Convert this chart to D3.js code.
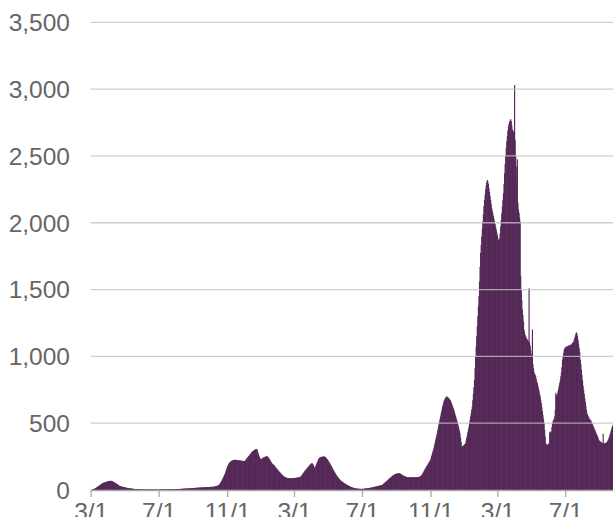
<!DOCTYPE html>
<html><head><meta charset="utf-8">
<script src="https://cdn.jsdelivr.net/npm/d3@7"></script>
<style>html,body{margin:0;padding:0;background:#fff;overflow:hidden}svg{display:block}</style>
</head><body><div id="chart"></div>
<script>
const startDate = "2020-03-01";
const yTicks = [0, 500, 1000, 1500, 2000, 2500, 3000, 3500];
const xTickDates = ["2020-03-01","2020-07-01","2020-11-01","2021-03-01","2021-07-01","2021-11-01","2022-03-01","2022-07-01"];
const dailyValues = [
1,2,3,5,7,8,10,12,15,18,
20,23,26,29,32,35,38,41,44,47,
50,52,54,56,57,58,60,61,63,64,
65,66,67,68,68,69,68,67,65,63,
60,58,56,53,50,48,45,42,39,36,
33,31,30,28,27,25,24,23,22,21,
20,19,18,17,16,15,14,14,13,13,
12,11,11,10,10,9,8,8,8,7,
7,7,6,6,6,6,6,5,5,5,
5,5,5,5,4,4,4,4,4,4,
4,4,4,4,4,4,4,4,4,4,
4,4,4,3,4,4,4,4,4,4,
4,4,4,4,4,4,4,5,5,5,
5,4,5,5,5,5,5,5,5,5,
5,5,5,5,5,5,5,5,5,6,
6,6,6,6,7,7,7,7,8,8,
8,8,9,9,9,10,10,10,10,11,
11,11,11,12,12,12,12,13,13,13,
14,14,14,15,15,15,16,16,16,17,
17,17,17,18,18,18,18,19,19,19,
19,20,20,20,20,21,21,21,21,22,
22,22,22,23,23,23,23,24,24,24,
25,26,27,28,29,30,31,33,35,37,
42,47,53,60,67,75,84,93,102,111,
120,132,145,158,170,180,189,197,204,209,
212,215,218,220,222,224,225,226,226,225,
225,224,224,223,222,222,221,221,220,220,
219,218,218,217,216,216,218,222,228,235,
240,245,250,255,260,265,270,276,282,287,
290,293,296,299,302,305,307,307,300,285,
270,258,248,238,232,230,232,236,240,242,
244,246,248,250,251,252,252,248,242,236,
230,223,216,209,202,196,193,190,187,182,
176,170,164,159,155,150,145,140,135,130,
125,121,117,113,109,105,101,99,97,95,
93,91,89,88,88,88,88,88,88,88,
88,88,89,89,89,90,90,91,92,92,
93,94,95,96,97,98,100,104,110,116,
122,128,134,140,145,150,155,160,165,170,
175,180,185,190,195,198,200,198,192,185,
172,163,170,180,190,200,210,220,230,238,
242,245,247,248,248,249,250,250,250,250,
247,243,238,233,228,222,215,208,201,194,
187,179,171,163,155,147,140,133,126,119,
112,106,100,95,89,84,79,75,71,67,
64,60,57,55,52,49,46,44,41,38,
36,34,32,30,28,25,24,22,20,19,
17,16,15,14,13,12,11,11,10,10,
9,9,9,8,8,8,8,9,9,9,
10,10,11,11,12,12,13,14,14,15,
16,17,17,18,19,20,21,22,23,24,
25,26,27,28,29,30,31,32,33,34,
35,36,37,40,43,47,51,55,58,62,
65,69,73,77,81,85,89,92,95,99,
103,106,109,112,115,117,119,121,122,123,
124,125,125,125,124,122,119,116,113,110,
108,106,104,102,100,99,98,97,96,95,
95,95,95,95,95,95,95,95,95,95,
95,96,96,96,96,96,97,97,98,99,
100,102,106,111,117,123,130,138,146,155,
162,169,176,183,190,197,204,211,218,225,
240,255,270,284,298,312,332,351,370,389,
407,425,447,468,490,510,530,550,570,590,
610,628,645,662,672,682,690,695,700,698,
694,690,685,680,675,670,658,647,635,623,
612,600,585,570,555,540,526,512,495,478,
460,443,425,392,360,325,325,328,332,335,
340,345,350,370,390,410,432,453,475,500,
525,550,575,600,625,672,720,770,825,910,
1000,1075,1150,1225,1300,1375,1450,1560,1670,1775,
1835,1895,1955,2010,2065,2125,2170,2210,2250,2280,
2305,2320,2310,2290,2260,2230,2200,2170,2140,2110,
2090,2070,2050,2030,2010,1990,1970,1950,1930,1910,
1890,1870,1860,1880,1920,1970,2020,2070,2120,2170,
2220,2290,2370,2440,2500,2560,2610,2650,2690,2720,
2740,2755,2765,2775,2760,2730,2700,2690,2680,2670,
3030,2620,2500,2420,2300,2475,2150,2100,2075,2040,
2010,1600,1500,1420,1350,1310,1260,1200,1180,1160,
1150,1140,1130,1125,1120,1110,1510,1100,1080,1050,
1020,990,1200,940,910,880,870,860,850,830,
810,800,780,760,740,720,700,675,650,620,
590,560,530,500,450,400,350,340,340,337,
340,345,350,430,437,437,430,470,500,515,
525,530,550,600,727,710,700,720,740,760,
780,800,820,850,880,920,975,1000,1025,1050,
1060,1065,1070,1072,1074,1075,1078,1080,1082,1084,
1085,1087,1090,1095,1100,1105,1110,1125,1140,1155,
1170,1180,1170,1150,1120,1090,1060,1030,975,940,
900,860,820,780,750,720,690,660,630,600,
575,565,555,545,535,528,525,520,510,500,
490,480,470,460,450,440,430,420,410,400,
390,375,370,365,362,360,355,350,348,420,
350,348,350,350,352,355,360,365,375,385,
395,410,425,440,455,470,480,490
];

const W = 613, H = 517;
const plotLeft = 90.7, plotBottom = 490, plotTop = 22.3;
const pxPerDay = 0.557;
const parse = d3.utcParse("%Y-%m-%d");
const t0 = parse(startDate);
const data = dailyValues.map((v, i) => ({date: d3.utcDay.offset(t0, i), value: v}));
const tEnd = d3.utcDay.offset(t0, dailyValues.length);

const x = d3.scaleUtc().domain([t0, tEnd]).range([plotLeft, plotLeft + pxPerDay * dailyValues.length]);
const y = d3.scaleLinear().domain([0, 3500]).range([plotBottom, plotTop]);

const svg = d3.select("#chart").append("svg").attr("width", W).attr("height", H);

svg.append("g").selectAll("rect").data(data).join("rect")
  .attr("x", d => x(d.date))
  .attr("width", d => x(d3.utcDay.offset(d.date, 1)) - x(d.date) + 0.6)
  .attr("y", d => y(d.value))
  .attr("height", d => y(0) - y(d.value))
  .attr("fill", "#552957");

// gridlines
svg.append("g").selectAll("line").data(yTicks.filter(t => t > 0)).join("line")
  .attr("x1", plotLeft).attr("x2", W)
  .attr("y1", d => y(d)).attr("y2", d => y(d))
  .attr("stroke", "#c4c4c4").attr("stroke-width", 1.3).attr("opacity", 0.8);

// y labels
svg.append("g").selectAll("text").data(yTicks).join("text")
  .attr("x", 70).attr("y", d => y(d)).attr("dy", "0.36em")
  .attr("text-anchor", "end")
  .attr("font-family", "Liberation Sans, Arial, sans-serif")
  .attr("font-size", 24.5).attr("fill", "#666")
  .text(d => d3.format(",")(d));

// x axis
const xAxis = d3.axisBottom(x)
  .tickValues(xTickDates.map(parse))
  .tickFormat(d3.utcFormat("%-m/%-d"))
  .tickSize(7).tickSizeOuter(0);
const gx = svg.append("g").attr("transform", `translate(0,${plotBottom})`).call(xAxis);
gx.select(".domain").attr("stroke", "#aaa").attr("stroke-width", 1.3)
  .attr("d", `M${plotLeft},0.5H${W}`);
gx.selectAll(".tick line").attr("stroke", "#aaa").attr("stroke-width", 1.3);
gx.selectAll(".tick text").attr("font-family", "Liberation Sans, Arial, sans-serif")
  .attr("font-size", 24.5).attr("fill", "#666").attr("dy", "0.78em").attr("y", 11);
</script>
</body></html>
